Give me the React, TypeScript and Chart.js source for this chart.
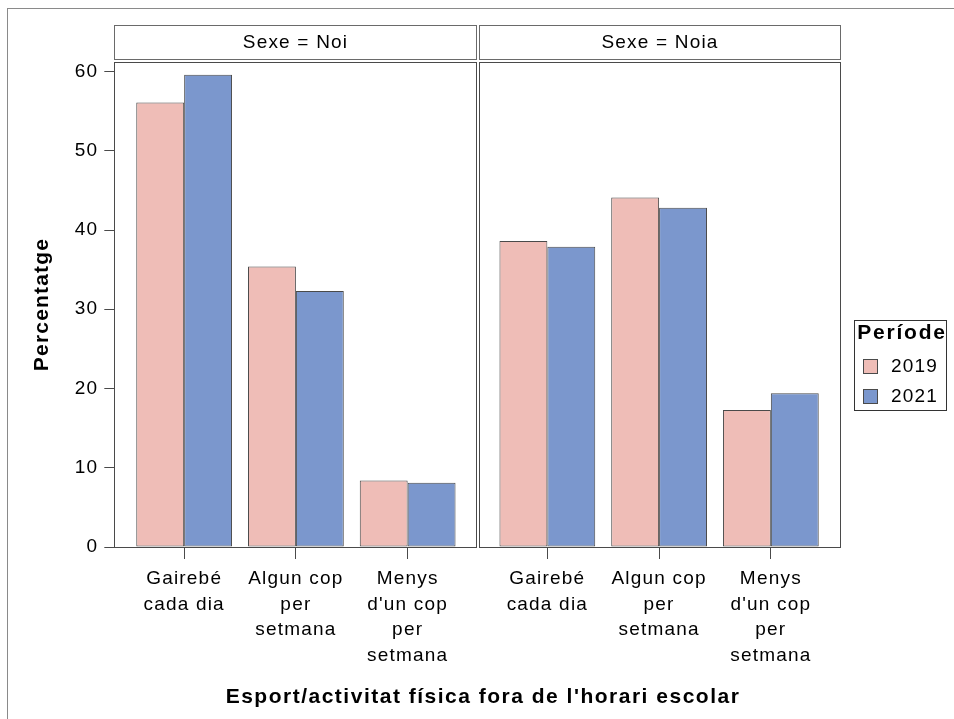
import React, { useEffect, useRef } from 'react';
import { Chart, registerables } from 'chart.js';

Chart.register(...registerables);

// ---- data ----
const categories: string[][] = [
  ['Gairebé', 'cada dia'],
  ['Algun cop', 'per', 'setmana'],
  ['Menys', "d'un cop", 'per', 'setmana'],
];
const panelTitles = ['Sexe = Noi', 'Sexe = Noia'];
const periods = ['2019', '2021'];
const noi2019 = [56.1, 35.4, 8.4];
const noi2021 = [59.6, 32.3, 8.1];
const noia2019 = [38.6, 44.1, 17.3];
const noia2021 = [37.9, 42.8, 19.4];
const yTicks = [0, 10, 20, 30, 40, 50, 60];
const yTitle = 'Percentatge';
const xTitle = "Esport/activitat física fora de l'horari escolar";
const legendTitle = 'Període';

// ---- layout / styles ----
const FONT = '"Liberation Sans", Arial, Helvetica, sans-serif';
const periodColors = ['#EFBDB7', '#7B97CD'];
const edgeColor = '#4a4a4a';
const LS = '1.2px';
const FS = 19;
const PANEL_PAD = 0.625; // space between panel edge and first/last category (in category units)
const PANEL_SPAN = categories.length - 1 + 2 * PANEL_PAD; // width of one panel in category units

// position on the shared linear x scale of category c in panel p
const xPos = (p: number, c: number) => p * PANEL_SPAN + c;
const panelEdges = (p: number) => [p * PANEL_SPAN - PANEL_PAD, (p + 1) * PANEL_SPAN - PANEL_PAD];

const seriesByPeriod = [
  [noi2019, noia2019],
  [noi2021, noia2021],
];

const decorPlugin = {
  id: 'decor',
  beforeDraw(chart: any) {
    chart.ctx.letterSpacing = LS;
  },
  afterDraw(chart: any) {
    const ctx = chart.ctx as CanvasRenderingContext2D;
    const ca = chart.chartArea;
    const xs = chart.scales.x;
    ctx.save();
    (ctx as any).letterSpacing = LS;
    // outer frame
    ctx.strokeStyle = '#8a8a8a';
    ctx.lineWidth = 1;
    ctx.strokeRect(7.5, 8.5, 1000, 1000);

    panelTitles.forEach((title, i) => {
      const [e0, e1] = panelEdges(i);
      const l = Math.round(xs.getPixelForValue(e0)) + (i === 0 ? 0.5 : 1.5);
      const r = Math.round(xs.getPixelForValue(e1)) - (i === 0 ? 1.5 : 0.5);
      // panel border
      ctx.strokeStyle = edgeColor;
      ctx.lineWidth = 1;
      ctx.strokeRect(l, Math.round(ca.top) + 0.5, r - l, Math.round(ca.bottom) - Math.round(ca.top));
      // header strip
      ctx.strokeStyle = '#6a6a6a';
      ctx.strokeRect(l, 25.5, r - l, 34);
      ctx.fillStyle = '#000';
      ctx.font = `${FS}px ${FONT}`;
      ctx.textAlign = 'center';
      ctx.textBaseline = 'middle';
      ctx.fillText(title, (l + r) / 2, 43);
    });

    // x title
    ctx.font = `bold 21px ${FONT}`;
    (ctx as any).letterSpacing = '1.5px';
    ctx.fillStyle = '#000';
    ctx.textAlign = 'center';
    ctx.textBaseline = 'middle';
    ctx.fillText(xTitle, 483, 697);

    // legend
    ctx.strokeStyle = '#333';
    ctx.lineWidth = 1;
    ctx.strokeRect(854.5, 320.5, 92, 90);
    ctx.font = `bold 21px ${FONT}`;
    (ctx as any).letterSpacing = '1.8px';
    ctx.fillText(legendTitle, 902, 333);
    (ctx as any).letterSpacing = LS;
    ctx.font = `${FS}px ${FONT}`;
    ctx.textAlign = 'left';
    periods.forEach((p, i) => {
      const cy = 366 + i * 30;
      ctx.fillStyle = periodColors[i];
      ctx.fillRect(863, cy - 7, 15, 15);
      ctx.strokeStyle = edgeColor;
      ctx.strokeRect(863.5, cy - 6.5, 14, 14);
      ctx.fillStyle = '#000';
      ctx.fillText(p, 891, cy + 1);
    });
    ctx.restore();
  },
};

export default function App() {
  const ref = useRef<HTMLCanvasElement>(null);
  useEffect(() => {
    if (!ref.current) return;
    const tickValues: number[] = [];
    const tickCats: number[] = [];
    panelTitles.forEach((_, p) =>
      categories.forEach((_, c) => {
        tickValues.push(xPos(p, c));
        tickCats.push(c);
      })
    );
    const datasets = periods.map((label, k) => ({
      label,
      data: seriesByPeriod[k].flatMap((vals, p) => vals.map((v, c) => ({ x: xPos(p, c), y: v }))),
      backgroundColor: periodColors[k],
      borderColor: edgeColor,
      borderWidth: 1,
      borderSkipped: false,
    }));
    const [xmin] = panelEdges(0);
    const [, xmax] = panelEdges(panelTitles.length - 1);
    const chart = new Chart(ref.current, {
      type: 'bar',
      data: { datasets } as any,
      options: {
        responsive: false,
        animation: false,
        events: [],
        categoryPercentage: 0.857,
        barPercentage: 1,
        layout: { padding: { top: 62, right: 113.3, bottom: 0, left: 0 } },
        plugins: { legend: { display: false }, tooltip: { enabled: false }, title: { display: false } },
        scales: {
          x: {
            type: 'linear',
            position: 'bottom',
            min: xmin,
            max: xmax,
            offset: false,
            afterBuildTicks: (s: any) => {
              s.ticks = tickValues.map((v) => ({ value: v }));
            },
            afterFit: (s: any) => {
              s.height = 172;
            },
            ticks: {
              callback: (_v: any, i: number) => categories[tickCats[i]],
              autoSkip: false,
              maxRotation: 0,
              minRotation: 0,
              padding: 7,
              color: '#000',
              font: { family: FONT, size: FS, lineHeight: 25.7 / FS },
            },
            grid: {
              drawOnChartArea: false,
              drawTicks: true,
              tickLength: 12,
              tickColor: edgeColor,
              color: edgeColor,
              offset: false,
            },
            border: { display: false },
          },
          y: {
            type: 'linear',
            position: 'left',
            min: 0,
            max: 61.2,
            afterBuildTicks: (s: any) => {
              s.ticks = yTicks.map((v) => ({ value: v }));
            },
            afterFit: (s: any) => {
              s.width = 114.3;
            },
            ticks: {
              includeBounds: false,
              padding: 6,
              color: '#000',
              font: { family: FONT, size: FS },
            },
            grid: {
              drawOnChartArea: false,
              drawTicks: true,
              tickLength: 10,
              tickColor: edgeColor,
              color: edgeColor,
            },
            border: { display: false },
            title: {
              display: true,
              text: yTitle,
              color: '#000',
              font: { family: FONT, size: 21, weight: 'bold' },
              padding: { top: 30, bottom: 0 },
            },
          },
        } as any,
      } as any,
      plugins: [decorPlugin],
    });
    return () => chart.destroy();
  }, []);
  return (
    <div style={{ position: 'absolute', left: 0, top: 0, width: 954, height: 719, background: '#fff' }}>
      <canvas ref={ref} width={954} height={719} style={{ display: 'block' }} />
    </div>
  );
}
